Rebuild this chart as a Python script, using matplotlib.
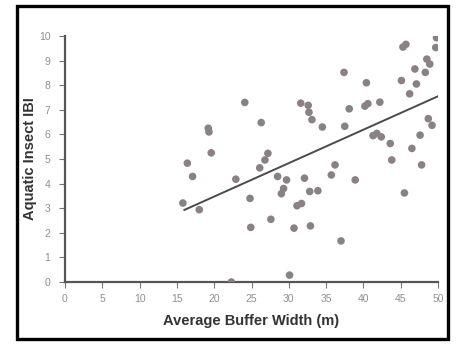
"""Aquatic insect IBI vs. average buffer width scatter."""

import matplotlib
matplotlib.use("Agg")
import matplotlib.pyplot as plt
from matplotlib.patches import Rectangle

buffer_width = [
    16.4, 17.1, 15.8, 18.0, 19.2, 19.3, 19.6, 24.1, 22.9, 22.3,
    24.8, 24.9, 26.3, 27.2, 26.8, 26.1, 27.6, 28.5, 29.7, 29.3,
    29.0, 30.1, 30.7, 31.1, 31.7, 31.6, 32.6, 32.7, 33.1, 32.1,
    32.8, 33.9, 32.9, 34.5, 35.7, 36.2, 37.0, 37.4, 37.5, 38.1,
    38.9, 40.2, 40.6, 40.4, 41.3, 41.8, 42.2, 42.4, 43.6, 43.8,
    45.1, 45.3, 45.7, 45.5, 46.2, 46.5, 46.9, 47.1, 47.6, 47.8,
    48.3, 48.5, 48.9, 48.7, 49.2, 49.7, 49.8,
]
insect_ibi = [
    4.83, 4.29, 3.21, 2.94, 6.25, 6.10, 5.25, 7.30, 4.18, 0.00,
    3.40, 2.22, 6.48, 5.23, 4.96, 4.64, 2.55, 4.29, 4.15, 3.80,
    3.59, 0.28, 2.19, 3.10, 3.19, 7.27, 7.18, 6.90, 6.60, 4.22,
    3.68, 3.71, 2.28, 6.30, 4.35, 4.76, 1.67, 8.52, 6.33, 7.04,
    4.15, 7.15, 7.25, 8.10, 5.95, 6.04, 7.31, 5.90, 5.63, 4.96,
    8.19, 9.55, 9.66, 3.62, 7.65, 5.43, 8.66, 8.05, 5.97, 4.76,
    8.52, 9.06, 8.86, 6.64, 6.37, 9.53, 9.93,
]

# regression line as drawn in the source figure
fit_x = [16.0, 50.0]
fit_y = [2.93, 7.55]

x_ticks = list(range(0, 51, 5))
y_ticks = list(range(0, 11))

plt.rcParams["font.family"] = ["Liberation Sans", "DejaVu Sans"]

fig = plt.figure(figsize=(4.62, 3.44), dpi=100)
ax = fig.add_axes([65 / 462, 1 - 282 / 344, 373 / 462, 246 / 344])

ax.scatter(buffer_width, insect_ibi, s=30, color="#8a8282",
           edgecolors="none", zorder=3)
ax.plot(fit_x, fit_y, color="#4a4a4a", linewidth=1.4, zorder=4)

ax.set_xlim(0, 50)
ax.set_ylim(0, 10)
ax.set_xticks(x_ticks)
ax.set_yticks(y_ticks)

for side in ["top", "right"]:
    ax.spines[side].set_visible(False)
for side in ["left", "bottom"]:
    ax.spines[side].set_color("#555555")
    ax.spines[side].set_linewidth(1.6)

ax.tick_params(direction="out", length=4.5, width=0.8, color="#777777",
               labelsize=7.5, labelcolor="#909090", pad=4)
ax.tick_params(axis="y", pad=6)

ax.set_xlabel("Average Buffer Width (m)", fontsize=10.5, fontweight="bold",
              color="#333333", labelpad=7)
ax.set_ylabel("Aquatic Insect IBI", fontsize=10.5, fontweight="bold",
              color="#333333", labelpad=1)

# black frame around the whole picture
fig.patches.append(Rectangle(
    (16.5 / 462, 1 - 338.5 / 344), 431 / 462, 333 / 344,
    transform=fig.transFigure, fill=False, edgecolor="black",
    linewidth=2.4,
))

fig.savefig("out.png", dpi=100)
